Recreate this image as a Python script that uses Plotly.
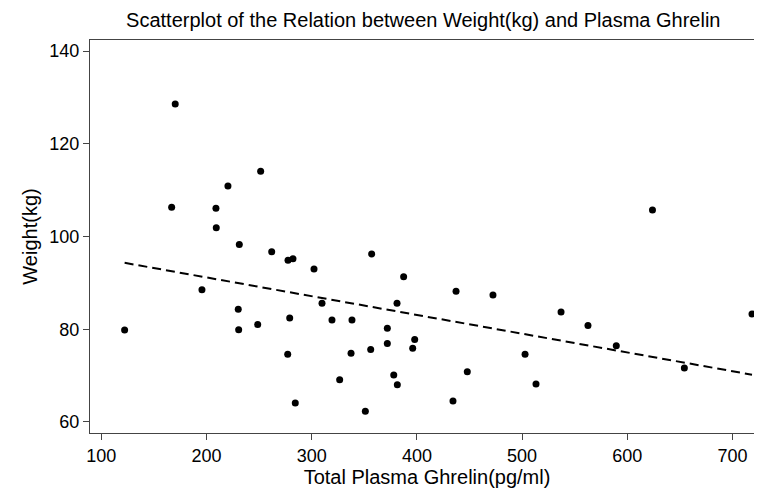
import numpy as np
import plotly.graph_objects as go

ghrelin = [122.2, 166.9, 170.3, 195.7, 209.0, 209.3, 220.4, 230.2, 230.6, 231.2,
           248.7, 251.5, 262.0, 277.2, 277.5, 279.1, 282.2, 284.4, 302.2, 309.8,
           319.3, 326.6, 337.4, 338.3, 351.0, 356.1, 357.0, 371.9, 371.9, 378.0,
           381.1, 381.4, 387.4, 396.0, 397.9, 434.3, 437.2, 447.9, 472.3, 502.8,
           513.2, 537.0, 562.6, 589.5, 623.9, 654.2, 718.5]
weight = [79.8, 106.3, 128.6, 88.5, 106.1, 101.9, 110.9, 84.3, 79.9, 98.3,
          81.0, 114.1, 96.7, 74.6, 94.9, 82.4, 95.2, 64.1, 93.0, 85.6,
          82.0, 69.1, 74.8, 82.0, 62.3, 75.6, 96.25, 80.2, 76.9, 70.1,
          85.6, 68.0, 91.3, 75.9, 77.8, 64.5, 88.2, 70.8, 87.4, 74.6,
          68.2, 83.7, 80.8, 76.4, 105.7, 71.6, 83.3]

x_ticks = [100, 200, 300, 400, 500, 600, 700]
y_ticks = [60, 80, 100, 120, 140]

slope, intercept = np.polyfit(ghrelin, weight, 1)
fit_x = [min(ghrelin), max(ghrelin)]
fit_y = [intercept + slope * v for v in fit_x]

fig = go.Figure()
fig.add_trace(go.Scatter(x=fit_x, y=fit_y, mode="lines",
                         line=dict(color="black", width=2, dash="9px,5px"),
                         hoverinfo="skip", showlegend=False))
fig.add_trace(go.Scatter(x=ghrelin, y=weight, mode="markers",
                         marker=dict(color="black", size=7),
                         showlegend=False))

font = "Liberation Sans, Arial, Helvetica, sans-serif"
fig.update_layout(
    width=762, height=489,
    margin=dict(l=82, r=6, t=32, b=64),
    paper_bgcolor="white", plot_bgcolor="white",
    font=dict(family=font, color="black", size=18),
    title=dict(text="Scatterplot of the Relation between Weight(kg) and Plasma Ghrelin",
               x=0.545, xanchor="center", y=0.99, yanchor="top",
               font=dict(size=20, family=font, color="black")),
)
fig.update_xaxes(range=[89.3, 729.9], tickvals=x_ticks, ticks="outside", ticklen=6,
                 tickcolor="#444", showgrid=False, zeroline=False,
                 showline=True, linecolor="#444", linewidth=1, mirror=True,
                 tickfont=dict(size=18),
                 title=dict(text="Total Plasma Ghrelin(pg/ml)", font=dict(size=20), standoff=4))
fig.update_yaxes(range=[57.6, 142.4], tickvals=y_ticks, ticks="outside", ticklen=6,
                 tickcolor="#444", showgrid=False, zeroline=False,
                 showline=True, linecolor="#444", linewidth=1, mirror=True,
                 tickfont=dict(size=18),
                 title=dict(text="Weight(kg)", font=dict(size=20), standoff=6))

fig.write_html("out.html")
